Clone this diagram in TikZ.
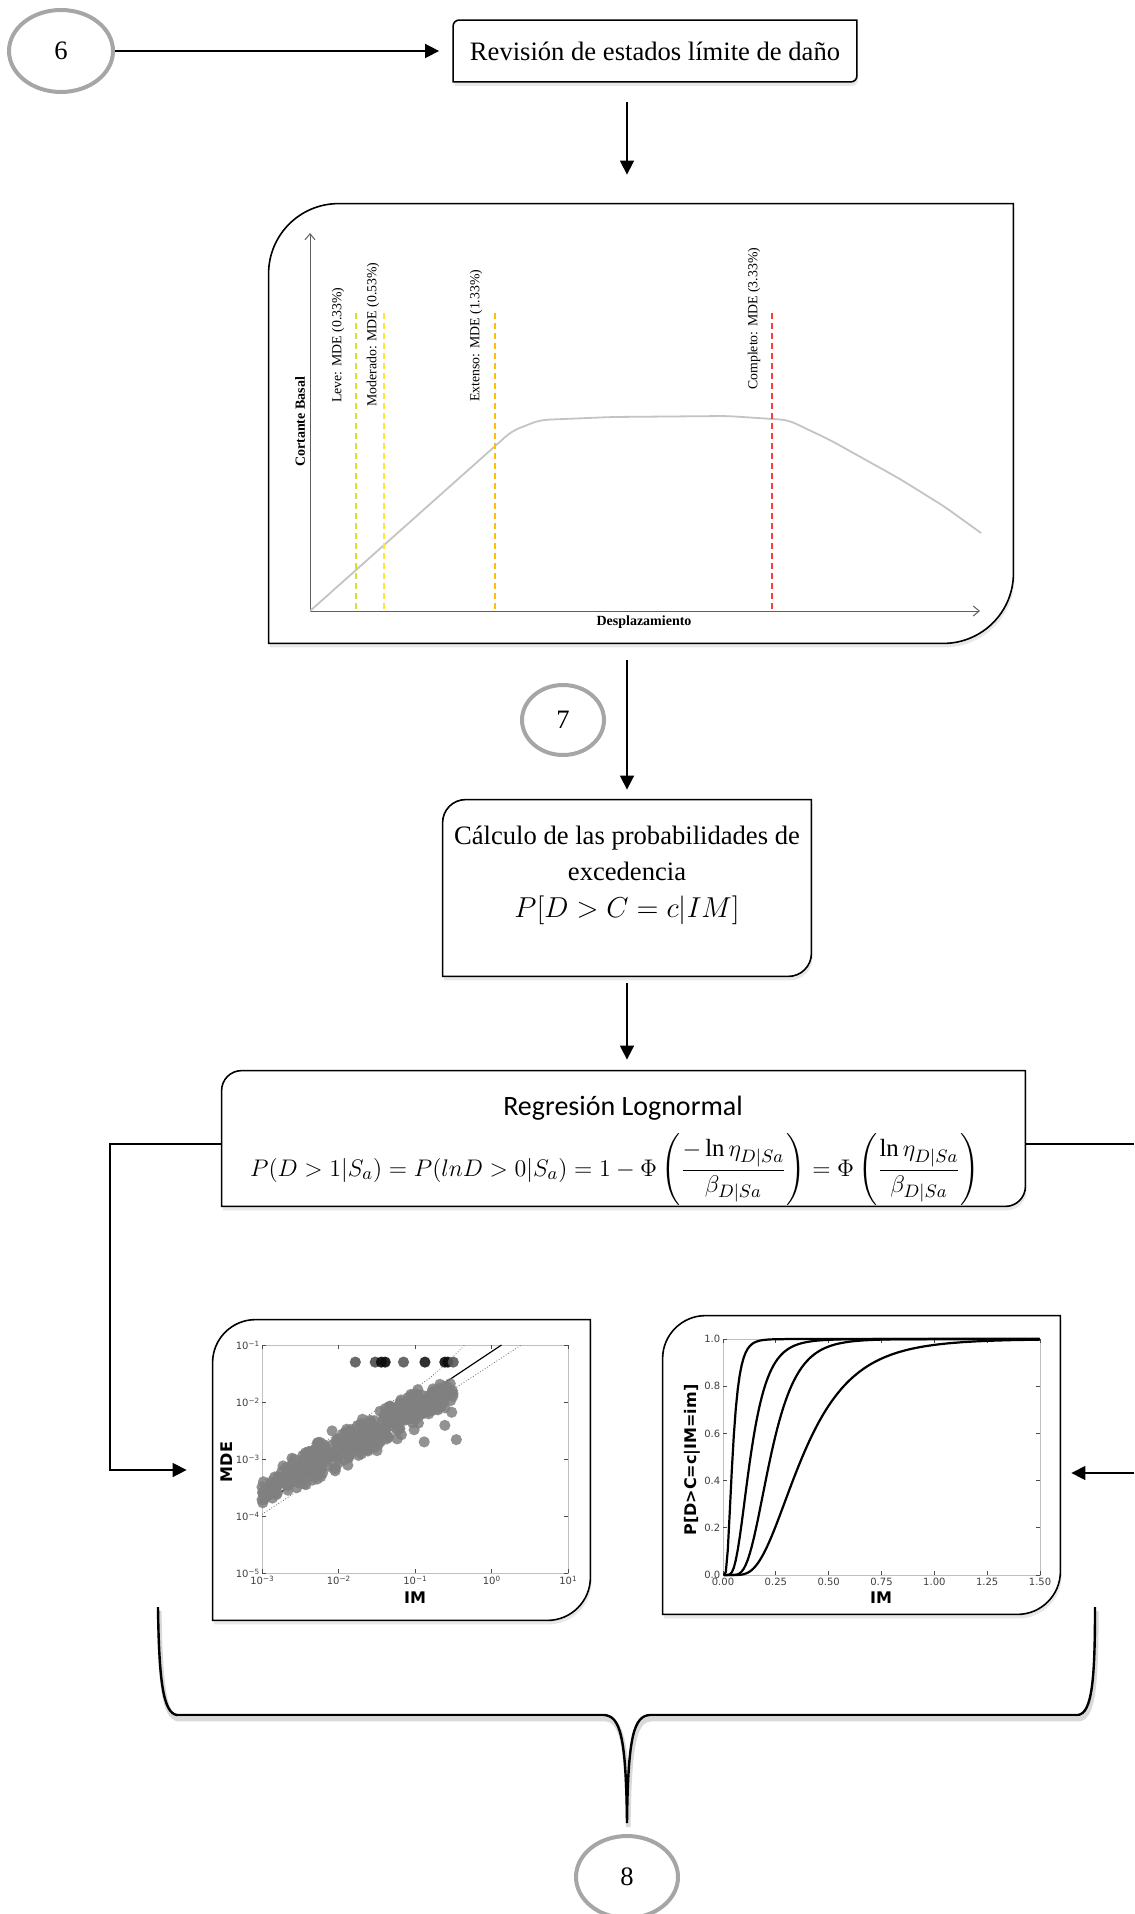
\documentclass[tikz,border=0pt]{standalone}
\usepackage{amsmath}
\usepackage{fontspec}
\setmainfont{Liberation Serif}
\newfontfamily\plotfont{DejaVu Sans}
\newfontfamily\calfont{Carlito}
\usetikzlibrary{arrows.meta,shapes.geometric,shadows}
\definecolor{ringgray}{HTML}{A6A6A6}
\definecolor{pushgray}{HTML}{C4C4C4}
\definecolor{axisgray}{HTML}{5F5F5F}
\definecolor{framegray}{HTML}{BFBFBF}
\definecolor{dotgray}{HTML}{808080}
\definecolor{leve}{HTML}{D6E22E}
\definecolor{moderado}{HTML}{FFE438}
\definecolor{extenso}{HTML}{FFC000}
\definecolor{completo}{HTML}{FF3C3C}
\pgfdeclarelayer{background}
\pgfsetlayers{background,main}
\tikzset{
  stepnum/.style={ellipse,draw=ringgray,line width=2pt,fill=white,inner sep=0pt,font=\fontsize{13.3}{15}\selectfont},
  panel/.style={rectangle,inner sep=0pt},
  panelline/.style={draw=black,line width=0.8pt,fill=white,
    drop shadow={shadow xshift=0.6pt,shadow yshift=-2pt,opacity=0.18}},
  flow/.style={-{Triangle[length=7pt,width=7pt]},line width=0.8pt},
  flowline/.style={line width=0.8pt},
  limit/.style={line width=0.6pt,dash pattern=on 3pt off 2pt},
  limitlbl/.style={rotate=90,anchor=west,inner sep=0pt,font=\fontsize{6.9}{8}\selectfont},
  axlbl/.style={inner sep=0pt,font=\bfseries\fontsize{7}{8}\selectfont},
  pushaxis/.style={draw=axisgray,line width=0.5pt,-{Straight Barb[length=3pt,width=5pt]}},
  pltick/.style={inner sep=1.2pt,font=\plotfont\fontsize{5}{6}\selectfont,text=black!75},
  pllbl/.style={inner sep=0pt,font=\plotfont\bfseries\fontsize{8}{9}\selectfont},
  plframe/.style={draw=framegray,line width=0.4pt},
  plmark/.style={draw=black!70,line width=0.4pt},
  band/.style={densely dotted,black!60,line width=0.4pt},
  fragcurve/.style={line width=1.1pt,line join=round},
  brace/.style={line width=1.2pt,preaction={draw=black!15,line width=2.4pt,transform canvas={shift={(0.6pt,-2pt)}}}},
}
\newcommand{\leafbox}[2]{% node name, radius of top left and bottom right corners
  \begin{pgfonlayer}{background}
  \draw[panelline] (#1.west) [rounded corners=#2] |- (#1.north) [sharp corners] -| (#1.east)
    [rounded corners=#2] |- (#1.south) [sharp corners] -| (#1.west) -- cycle;
  \end{pgfonlayer}}
\newcommand{\dec}[1]{10\raisebox{0.55ex}{\fontsize{3.6}{4}\selectfont#1}}
\begin{document}
\begin{tikzpicture}[x=0.5pt,y=-0.5pt,
  declare function={ncdf(\z)=1/(1+exp(-(0.07056*\z*\z*\z+1.5976*\z)));
                    zc(\s)=max(-3.4,min(3.4,\s));}]
\useasboundingbox (0,0) rectangle (1134,1914);
% step 6 and damage limit states
\node[stepnum,minimum width=52pt,minimum height=41pt] (c6) at (61,51) {6};
\node[panel,minimum width=201.5pt,minimum height=30.5pt,font=\fontsize{13.3}{15}\selectfont] (revision) at (655,51) {Revisión de estados límite de daño};
\leafbox{revision}{3pt}
\node[panel,minimum width=372pt,minimum height=219.5pt] (pushover) at (641,423.5) {};
\leafbox{pushover}{35pt}
\draw[pushaxis] (310,611) -- (310,233);
\draw[pushaxis] (310,611) -- (980,611);
\draw[pushgray,line width=0.9pt,rounded corners=4pt] (310,611) -- (512,431) -- (540,420) -- (612,417) -- (727,416)
  -- (788,420) -- (830,440) -- (900,479) -- (945,507) -- (981,533);
\foreach \x/\c/\t/\lx/\ly in {356/leve/Leve: MDE (0.33\%)/338/403,384/moderado/Moderado: MDE (0.53\%)/373/407,
    495/extenso/Extenso: MDE (1.33\%)/476/402,772/completo/Completo: MDE (3.33\%)/754/390}{
  \draw[limit,\c] (\x,313) -- (\x,611);
  \node[limitlbl] (lbl\c) at (\lx,\ly) {\t};
}
\node[axlbl,rotate=90] (ylbl) at (300,422) {Cortante Basal};
\node[axlbl] (xlbl) at (644,622) {Desplazamiento};
% step 7
\node[stepnum,minimum width=41pt,minimum height=35pt] (c7) at (563,720) {7};
\node[panel,minimum width=184pt,minimum height=88pt] (calculo) at (627,888) {};
\leafbox{calculo}{11.5pt}
\node[align=center,font=\fontsize{13.3}{18}\selectfont] (calctxt) at (627,853)
  {Cálculo de las probabilidades de\\excedencia};
\node[font=\fontsize{14.3}{18}\selectfont] (calcform) at (627,910) {$P[D>C=c|IM]$};
\node[panel,minimum width=401.5pt,minimum height=67.5pt] (regresion) at (623.5,1138.5) {};
\leafbox{regresion}{10pt}
\node[font=\calfont\fontsize{14}{16}\selectfont] (regtitle) at (623,1108) {Regresión Lognormal};
\node[font=\fontsize{12.4}{14}\selectfont] (regform) at (615,1170)
  {$P(D>1|S_a)=P(lnD>0|S_a)=1-\Phi\left(\dfrac{-\ln\eta_{D|Sa}}{\beta_{D|Sa}}\right)=\Phi\left(\dfrac{\ln\eta_{D|Sa}}{\beta_{D|Sa}}\right)$};
% regression plots
\node[panel,minimum width=188.5pt,minimum height=150pt] (mdeplot) at (401.5,1470) {};
\leafbox{mdeplot}{21.5pt}
\node[panel,minimum width=198.5pt,minimum height=149pt] (fragplot) at (861.5,1465) {};
\leafbox{fragplot}{21.5pt}
\begin{scope}[shift={(262,1573)},x=38.25pt,y=28.5pt]
  \draw[plframe] (0,0) rectangle (4,4);
  \draw[band] plot[smooth] coordinates {(0,1.61) (1.2,2.62) (2.13,3.36) (2.65,4)};
  \draw[band] (0,1.03) -- (3.39,4);
  \draw[black,line width=0.6pt] (0,1.2) -- (3.13,4);
  \pgfmathsetseed{7}
  \foreach \i in {1,...,420}{
    \pgfmathsetmacro\lx{2.5*rnd}
    \pgfmathsetmacro\ly{1.38+0.8*\lx-0.03*\lx*\lx+(0.12+0.1*sin(72*\lx))*(rand+rand)}
    \fill[dotgray,opacity=.85] (\lx,\ly) circle[radius=2.8pt];}
  \foreach \lx/\ly in {2.12/2.3,2.39/2.59,2.54/2.34,2.48/2.82,2.39/2.9}
    \fill[dotgray,opacity=.85] (\lx,\ly) circle[radius=2.8pt];
  \foreach \lx/\c in {1.22/65,1.48/70,1.56/95,1.61/95,1.85/65,2.13/90,2.39/95,2.43/95,2.5/65}
    \fill[black!\c,opacity=.9] (\lx,3.7) circle[radius=2.8pt];
  \foreach \k/\e in {0/−5,1/−4,2/−3,3/−2,4/−1}{
    \draw[plmark] (0,\k) -- ++(2pt,0);
    \draw[plmark] (4,\k) -- ++(-2pt,0);
    \node[pltick,anchor=east] (my\k) at (0,\k) {\dec{\e}};}
  \foreach \k/\e in {0/−3,1/−2,2/−1,3/0,4/1}{
    \draw[plmark] (\k,0) -- ++(0,2pt);
    \draw[plmark] (\k,4) -- ++(0,-2pt);
    \node[pltick,anchor=north] (mx\k) at (\k,0) {\dec{\e}};}
\end{scope}
\node[pllbl,rotate=90] (mdelbl) at (227,1462) {MDE};
\node[pllbl] (imlbla) at (415,1598) {IM};
\begin{scope}[shift={(723,1575)},x=105.67pt,y=118pt]
  \draw[plframe] (0,0) rectangle (1.5,1);
  \foreach \v [count=\i] in {0.00,0.25,0.50,0.75,1.00,1.25,1.50}{
    \draw[plmark] (\v,0) -- ++(0,2pt);
    \draw[plmark] (\v,1) -- ++(0,-2pt);
    \node[pltick,anchor=north] (fx\i) at (\v,0) {\v};}
  \foreach \v [count=\i] in {0.0,0.2,0.4,0.6,0.8,1.0}{
    \draw[plmark] (0,\v) -- ++(2pt,0);
    \draw[plmark] (1.5,\v) -- ++(-2pt,0);
    \node[pltick,anchor=east] (fy\i) at (0,\v) {\v};}
  \foreach \th/\be in {0.045/0.55,0.13/0.5,0.225/0.43,0.375/0.5}
    \draw[fragcurve] plot[domain=0.004:1.5,samples=160] (\x,{ncdf(zc(ln(\x/\th)/\be))});
\end{scope}
\node[pllbl,rotate=90] (problbl) at (692,1460) {P[D>C=c|IM=im]};
\node[pllbl] (imlblb) at (881,1598) {IM};
% step 8
\draw[brace] (158,1607) .. controls (159,1680) and (163,1713) .. (177,1715) -- (604,1715)
  .. controls (620,1716) and (626,1735) .. (627,1823)
  .. controls (628,1735) and (634,1716) .. (650,1715) -- (1078,1715)
  .. controls (1092,1713) and (1095,1680) .. (1095,1607);
\node[stepnum,minimum width=51pt,minimum height=41pt] (c8) at (627,1877) {8};
% connectors
\coordinate (lturn) at (110,1300);
\coordinate (rout) at (1134,1144);
\coordinate (rin) at (1134,1473);
\draw[flow,shorten >=7pt] (c6) -- (c6 -| revision.west);
\draw[flow,shorten <=10pt,shorten >=14.5pt] (revision.south -| calculo) -- (pushover.north -| calculo);
\draw[flow,shorten <=8.5pt,shorten >=5pt] (pushover.south -| calculo) -- (calculo.north);
\draw[flow,shorten <=3.5pt,shorten >=5.5pt] (calculo.south) -- (calculo |- regresion.north);
\draw[flow,shorten >=13pt] ([yshift=-2.75pt]regresion.west) -| (lturn) |- (mdeplot.west);
\draw[flowline] ([yshift=-2.75pt]regresion.east) -- (rout);
\draw[flow,shorten >=5.5pt] (rin) -- (rin -| fragplot.east);
\end{tikzpicture}
\end{document}
